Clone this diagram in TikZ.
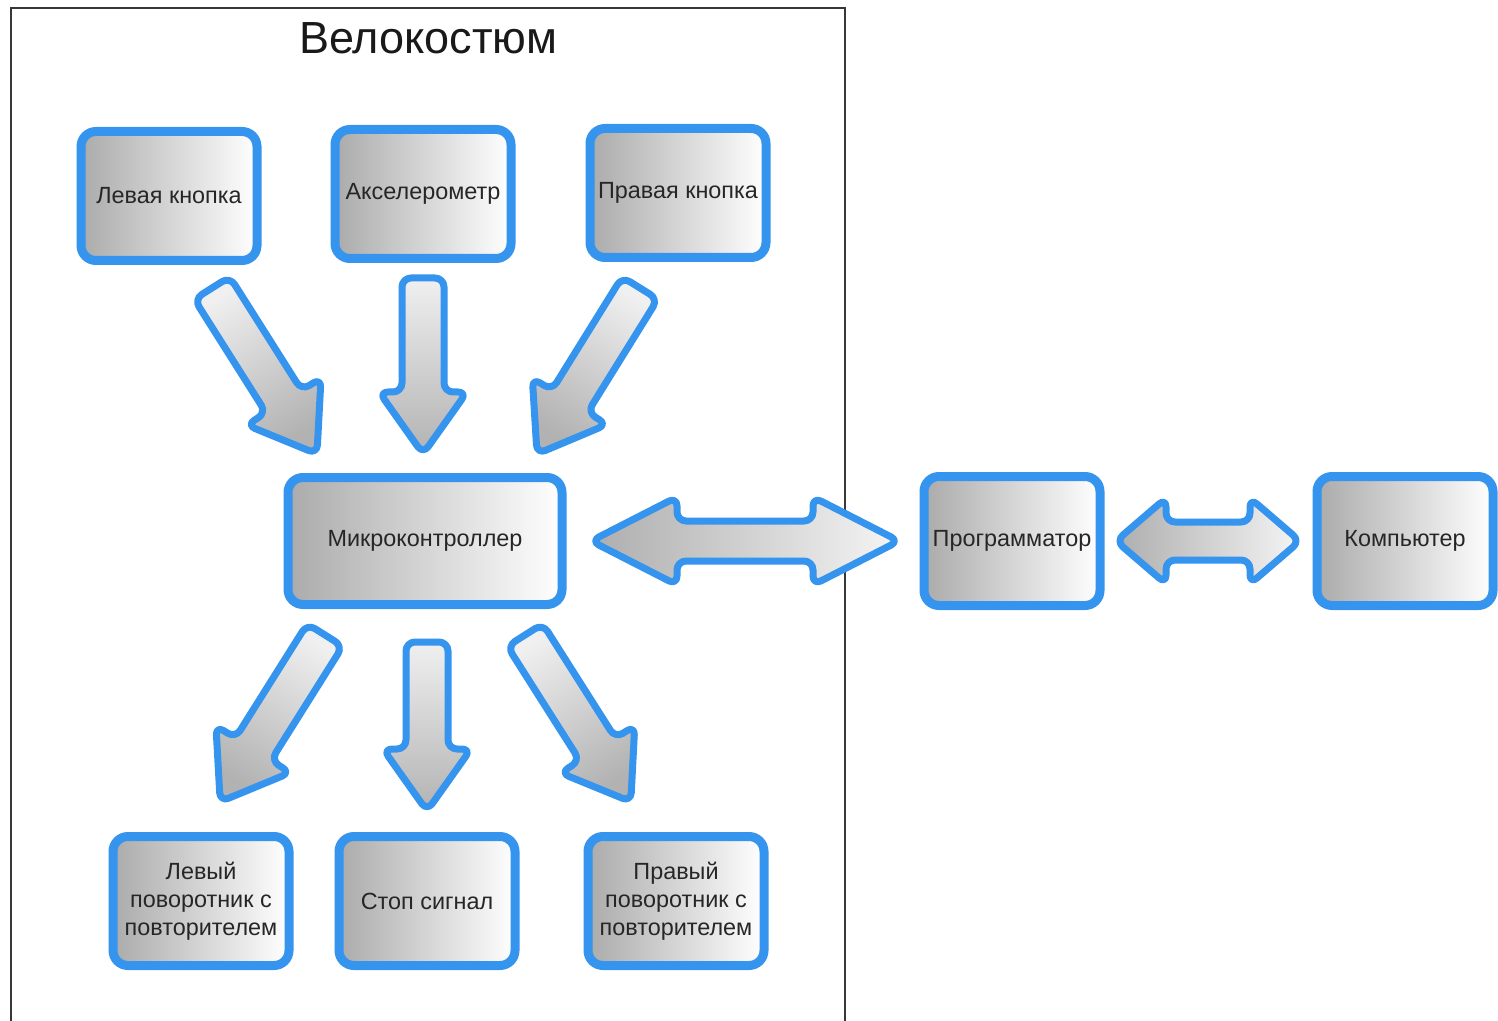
\documentclass[tikz,border=0pt]{standalone}
\usepackage{fontspec}
\setmainfont{Liberation Sans}
\usetikzlibrary{calc}
\definecolor{bblue}{RGB}{52,148,238}
\definecolor{framec}{RGB}{55,55,55}
\tikzset{
  box/.style={draw=bblue, line width=4.5pt, rounded corners=7.5pt,
    left color=black!33, right color=white,
    minimum width=88pt, minimum height=64.5pt, inner sep=0pt, align=center,
    font=\fontsize{11.7}{14}\selectfont, text=black!85},
  barrowstyle/.style={draw=bblue, line width=3.5pt, rounded corners=4.5pt, line join=round},
}
% single block arrow: tail #1, tip #2, half shaft #3, half head #4, head length #5 (pt)
\newcommand\blockarrow[5]{%
  \path let \p1=($(#2)-(#1)$), \n1={atan2(\y1,\x1)}, \n2={veclen(\x1,\y1)} in
    \pgfextra{\pgfmathsetmacro\tmpa{\n2}\xdef\balen{\tmpa}\pgfmathsetmacro\tmpb{\n1}\xdef\baang{\tmpb}};
  \pgfmathsetmacro\bashang{\baang+90}%
  \pgfmathsetmacro\bab{\balen-#5}%
  \path[barrowstyle, top color=black!6, bottom color=black!30, shading angle=\bashang,
        shift={(#1)}, rotate=\baang]
    (0pt,#3pt) -- (\bab pt,#3pt) -- (\bab pt,#4pt) -- (\balen pt,0pt)
    -- (\bab pt,-#4pt) -- (\bab pt,-#3pt) -- (0pt,-#3pt) -- cycle;
}
% double block arrow between tips #1 (left) and #2 (right)
\newcommand\dblockarrow[5]{%
  \path let \p1=($(#2)-(#1)$), \n1={atan2(\y1,\x1)}, \n2={veclen(\x1,\y1)} in
    \pgfextra{\pgfmathsetmacro\tmpa{\n2}\xdef\balen{\tmpa}\pgfmathsetmacro\tmpb{\n1}\xdef\baang{\tmpb}};
  \pgfmathsetmacro\bashang{\baang+90}%
  \pgfmathsetmacro\bab{\balen-#5}%
  \path[barrowstyle, top color=black!32, bottom color=black!4, shading angle=\bashang,
        shift={(#1)}, rotate=\baang]
    (0pt,0pt) -- (#5pt,#4pt) -- (#5pt,#3pt) -- (\bab pt,#3pt) -- (\bab pt,#4pt)
    -- (\balen pt,0pt) -- (\bab pt,-#4pt) -- (\bab pt,-#3pt) -- (#5pt,-#3pt)
    -- (#5pt,-#4pt) -- cycle;
}
\begin{document}
\begin{tikzpicture}[x=0.5pt,y=-0.5pt]
\useasboundingbox (0,0) rectangle (1498,1021);
% frame
\draw[framec, line width=1.2pt] (11,1030) |- (845,8) -- (845,1030);
\node[font=\fontsize{22.5}{27}\selectfont, text=black!90] (title) at (428,38) {Велокостюм};
% nodes
\node[box] (lk) at (169,196) {Левая кнопка};
\node[box] (acc) at (423,194) {Акселерометр};
\node[box] (pk) at (678,193) {Правая кнопка};
\node[box, minimum width=137pt, minimum height=63.5pt] (mc) at (425,541) {Микроконтроллер};
\node[box] (prog) at (1012,541) {Программатор};
\node[box] (comp) at (1405,541) {Компьютер};
\node[box] (lp) at (201,901) {Левый\\поворотник с\\повторителем};
\node[box] (stop) at (427,901) {Стоп сигнал};
\node[box] (rp) at (676,901) {Правый\\поворотник с\\повторителем};
% arrow end points
\coordinate (a1s) at (212,288); \coordinate (a1e) at (317,454);
\coordinate (a2s) at (423,278); \coordinate (a2e) at (423,454);
\coordinate (a3s) at (640,288); \coordinate (a3e) at (537,454);
\coordinate (a4s) at (591,541); \coordinate (a4e) at (899,541);
\coordinate (a5s) at (1116,541); \coordinate (a5e) at (1300,541);
\coordinate (a6s) at (325,635); \coordinate (a6e) at (220,802);
\coordinate (a7s) at (427,642); \coordinate (a7e) at (427,811);
\coordinate (a8s) at (525,635); \coordinate (a8e) at (631,802);
% arrows
\blockarrow{a1s}{a1e}{10.5}{22}{31}
\blockarrow{a2s}{a2e}{10.5}{22}{31}
\blockarrow{a3s}{a3e}{10.5}{22}{31}
\blockarrow{a6s}{a6e}{10.5}{22}{31}
\blockarrow{a7s}{a7e}{10.5}{22}{31}
\blockarrow{a8s}{a8e}{10.5}{22}{31}
\dblockarrow{a4s}{a4e}{10}{22}{43}
\dblockarrow{a5s}{a5e}{9.5}{21.5}{25}
\end{tikzpicture}
\end{document}
